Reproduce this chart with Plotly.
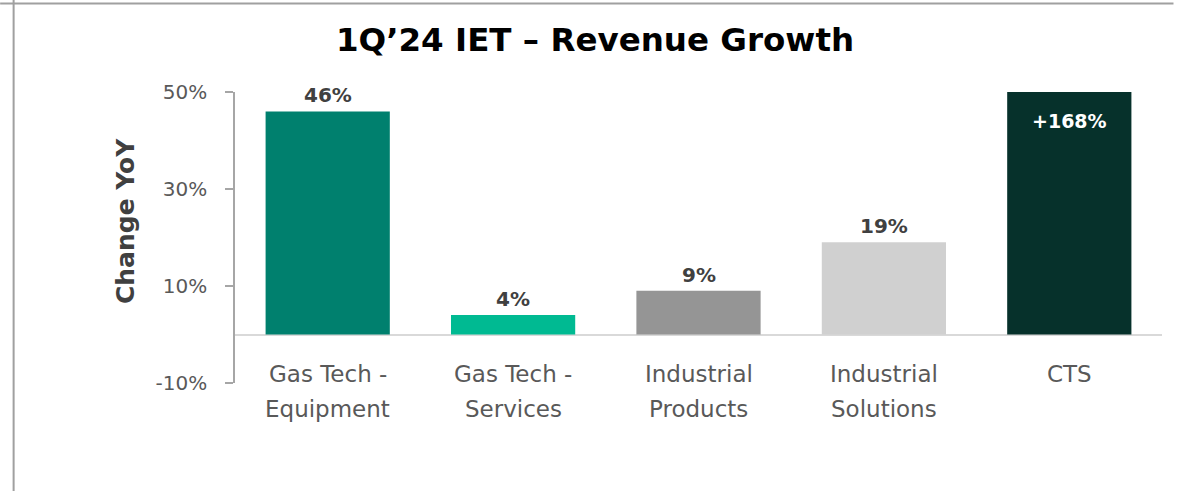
import plotly.graph_objects as go

categories = ["Gas Tech -<br>Equipment", "Gas Tech -<br>Services", "Industrial<br>Products",
              "Industrial<br>Solutions", "CTS"]
values = [46, 4, 9, 19, 168]
labels = ["46%", "4%", "9%", "19%", "+168%"]
colors = ["#00806E", "#00BA92", "#959595", "#D0D0D0", "#06312B"]
tick_vals = [-10, 10, 30, 50]
tick_text = ["-10%", "10%", "30%", "50%"]
y_range = [-10, 50]
y_title = "Change YoY"
chart_title = "1Q’24 IET – Revenue Growth"

FONT = "DejaVu Sans"
W, H = 1178, 491
L, R, T, B = 235, 15.5, 92, 108
pw = W - L - R
ph = H - T - B

def px_x(p):
    return (p - L) / pw

def px_y(p):
    return (H - B - p) / ph

fig = go.Figure()
fig.add_trace(go.Bar(
    x=categories, y=values, marker=dict(color=colors, line=dict(width=0)),
    width=0.67, hoverinfo="skip",
))

annotations = []
for c, v, lab in zip(categories, values, labels):
    if v > y_range[1]:
        annotations.append(dict(x=c, y=y_range[1], xref="x", yref="y", text="<b>" + lab + "</b>",
                                showarrow=False, yanchor="middle", yshift=-29,
                                font=dict(family=FONT, size=19, color="white")))
    else:
        annotations.append(dict(x=c, y=v, xref="x", yref="y", text="<b>" + lab + "</b>",
                                showarrow=False, yanchor="bottom", yshift=2,
                                font=dict(family=FONT, size=20, color="#404040")))
    lines = c.split("<br>")
    for i, ln in enumerate(lines):
        annotations.append(dict(x=c, y=0, xref="x", yref="paper", text=ln, showarrow=False,
                                yanchor="middle", yshift=9 - 35 * i,
                                font=dict(family=FONT, size=23, color="#595959")))

annotations.append(dict(x=px_x(125), y=px_y(221), xref="paper", yref="paper",
                        text="<b>" + y_title + "</b>", textangle=-90, showarrow=False,
                        xanchor="center", yanchor="middle",
                        font=dict(family=FONT, size=25, color="#404040")))

shapes = [
    dict(type="line", xref="paper", yref="paper", x0=px_x(0), x1=px_x(1174), y0=px_y(3.5), y1=px_y(3.5),
         line=dict(color="#A0A0A0", width=2)),
    dict(type="line", xref="paper", yref="paper", x0=px_x(13.5), x1=px_x(13.5), y0=px_y(0), y1=px_y(491),
         line=dict(color="#A0A0A0", width=2)),
]

fig.update_layout(
    width=W, height=H,
    margin=dict(l=L, r=R, t=T, b=B),
    paper_bgcolor="white", plot_bgcolor="white",
    showlegend=False,
    title=dict(text="<b>" + chart_title + "</b>", x=595 / W, xanchor="center",
               y=1 - 40 / H, yanchor="middle",
               font=dict(family=FONT, size=32.5, color="#000000")),
    annotations=annotations,
    shapes=shapes,
    bargap=0.33,
)
fig.update_xaxes(showticklabels=False, showline=False, showgrid=False, zeroline=False, ticks="")
fig.update_yaxes(range=y_range, tickvals=tick_vals, ticktext=tick_text,
                 showgrid=False, showline=True, linecolor="#A6A6A6", linewidth=1.5,
                 ticks="outside", ticklen=8, tickcolor="#A6A6A6", tickwidth=1.5,
                 ticklabelstandoff=14,
                 zeroline=True, zerolinecolor="#D9D9D9", zerolinewidth=2,
                 tickfont=dict(family=FONT, size=20, color="#595959"))

fig.write_html("out.html", config={"displayModeBar": False},
               post_script="document.body.style.margin='0';")
